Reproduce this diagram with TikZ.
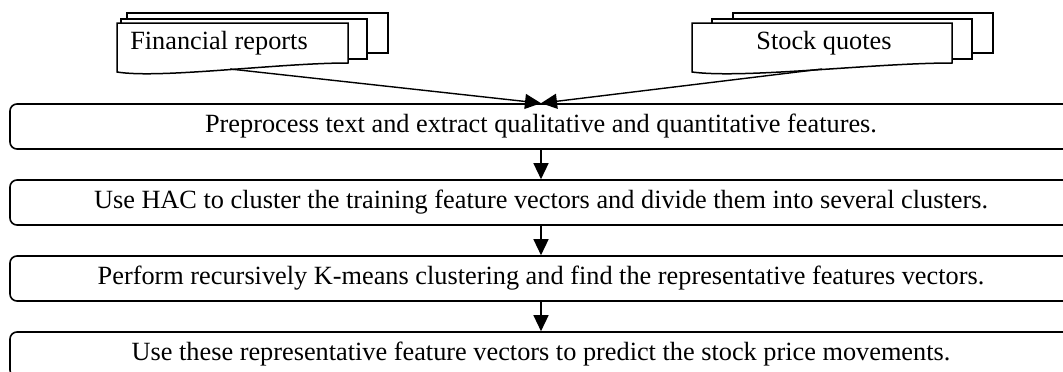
\documentclass[tikz,border=0pt]{standalone}
\usepackage{fontspec}
\setmainfont{Liberation Serif}
\usetikzlibrary{arrows.meta}
\begin{document}
\begin{tikzpicture}[x=1pt,y=-1pt,
  stepbox/.style={draw, line width=1.6pt, rounded corners=7pt, minimum width=1062pt, minimum height=45pt, inner sep=0pt, font=\fontsize{26.3}{30}\selectfont},
  page/.style={draw, fill=white, line width=1.5pt},
  doctext/.style={inner sep=0pt, font=\fontsize{26.3}{30}\selectfont},
  flow/.style={line width=1.4pt, -{Triangle[length=16pt,width=15pt]}}]
\useasboundingbox (0,0) rectangle (1063,372);
\clip (0,0) rectangle (1063,372);
% Financial reports (multi-document)
\path[page] (127,13) rectangle (388,53);
\path[page] (121,19) rectangle (367,59);
\path[page] (117,23) -- (348,23) -- (348,63) .. controls (278,63) and (160,79) .. (117,72) -- cycle;
\node[doctext] (fin) at (219,43) {Financial reports};
\coordinate (finbot) at (230,69);
% Stock quotes (multi-document)
\path[page] (733,13) rectangle (993,53);
\path[page] (712,19) rectangle (972,59);
\path[page] (692,23) -- (952,23) -- (952,63) .. controls (874,63) and (744,79) .. (692,72) -- cycle;
\node[doctext] (stock) at (824,43) {Stock quotes};
\coordinate (stockbot) at (822,69);
% process boxes
\node[stepbox] (b1) at (541,126.5) {Preprocess text and extract qualitative and quantitative features.};
\node[stepbox] (b2) at (541,202.5) {Use HAC to cluster the training feature vectors and divide them into several clusters.};
\node[stepbox] (b3) at (541,278.5) {Perform recursively K-means clustering and find the representative features vectors.};
\node[stepbox] (b4) at (541,354.5) {Use these representative feature vectors to predict the stock price movements.};
% connectors
\draw[flow] (finbot) -- (b1.north);
\draw[flow] (stockbot) -- (b1.north);
\draw[flow] (b1) -- (b2);
\draw[flow] (b2) -- (b3);
\draw[flow] (b3) -- (b4);
\end{tikzpicture}
\end{document}
